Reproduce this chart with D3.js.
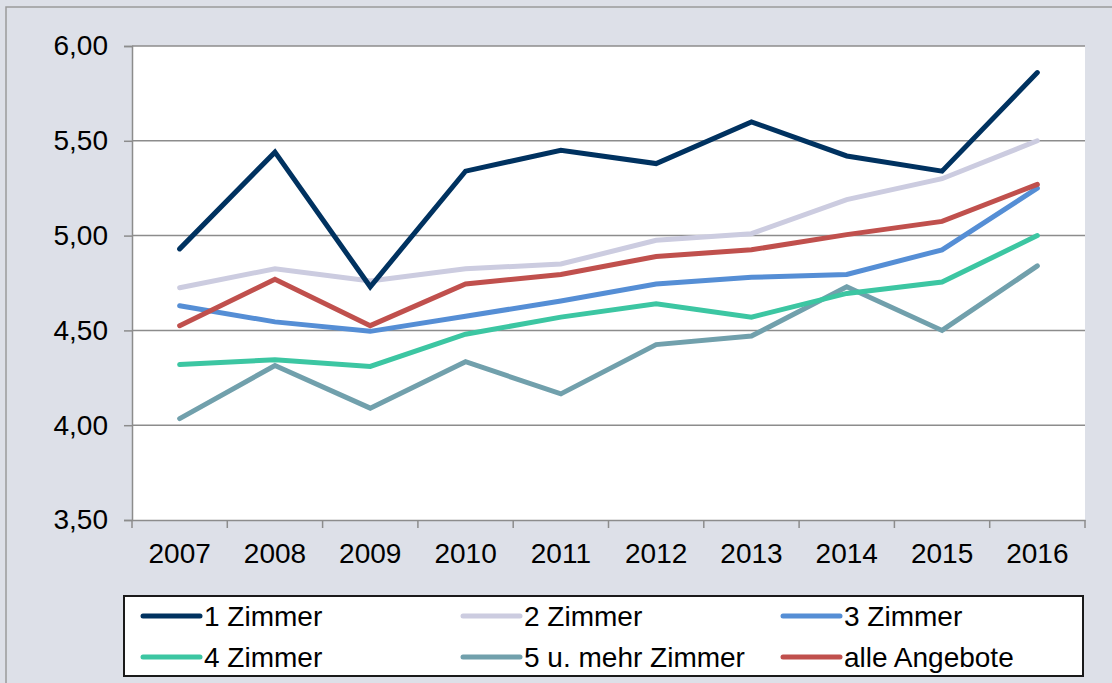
<!DOCTYPE html>
<html>
<head>
<meta charset="utf-8">
<script src="https://cdn.jsdelivr.net/npm/d3@7"></script>
<style>
  body { margin: 0; background: #dde0e8; }
  svg { display: block; font-family: "Liberation Sans", Arial, sans-serif; }
</style>
</head>
<body>
<div id="chart"></div>
<script>
// Daten
const years = ["2007", "2008", "2009", "2010", "2011", "2012", "2013", "2014", "2015", "2016"];
const zimmer1 = [4.93, 5.44, 4.73, 5.34, 5.45, 5.38, 5.60, 5.42, 5.34, 5.86];
const zimmer2 = [4.725, 4.825, 4.76, 4.825, 4.85, 4.975, 5.01, 5.19, 5.30, 5.50];
const zimmer3 = [4.63, 4.545, 4.495, 4.575, 4.655, 4.745, 4.78, 4.795, 4.925, 5.25];
const zimmer4 = [4.32, 4.345, 4.31, 4.48, 4.57, 4.64, 4.57, 4.695, 4.755, 5.00];
const zimmer5 = [4.035, 4.315, 4.09, 4.335, 4.165, 4.425, 4.47, 4.73, 4.50, 4.84];
const alle = [4.525, 4.77, 4.525, 4.745, 4.795, 4.89, 4.925, 5.005, 5.075, 5.27];
const yTicks = [3.5, 4.0, 4.5, 5.0, 5.5, 6.0];

const series = [
  { name: "1 Zimmer", values: zimmer1, color: "#003260" },
  { name: "2 Zimmer", values: zimmer2, color: "#cccce0" },
  { name: "3 Zimmer", values: zimmer3, color: "#558ed5" },
  { name: "4 Zimmer", values: zimmer4, color: "#3cc6a2" },
  { name: "5 u. mehr Zimmer", values: zimmer5, color: "#71a0ac" },
  { name: "alle Angebote", values: alle, color: "#c0504d" }
];
// Reihenfolge beim Zeichnen (unterste zuerst)
const drawOrder = [4, 3, 2, 5, 1, 0];

const width = 1112, height = 683;
const plot = { left: 132, right: 1085, top: 46, bottom: 520 };
const fontSize = 28;

const svg = d3.select("#chart").append("svg")
  .attr("width", width)
  .attr("height", height);

// Hintergrund mit Rahmen
svg.append("rect")
  .attr("x", 6).attr("y", 7)
  .attr("width", width + 20).attr("height", height + 20)
  .attr("fill", "#dde0e8")
  .attr("stroke", "#9a9a9a")
  .attr("stroke-width", 1.5);

svg.append("rect")
  .attr("x", plot.left).attr("y", plot.top)
  .attr("width", plot.right - plot.left)
  .attr("height", plot.bottom - plot.top)
  .attr("fill", "#ffffff");

const x = d3.scaleBand().domain(years).range([plot.left, plot.right]);
const y = d3.scaleLinear().domain([3.5, 6.0]).range([plot.bottom, plot.top]);

const fmt = d => d3.format(".2f")(d).replace(".", ",");

// Gitternetz
svg.append("g")
  .selectAll("line")
  .data(yTicks.slice(1))
  .enter().append("line")
  .attr("x1", plot.left).attr("x2", plot.right)
  .attr("y1", d => y(d)).attr("y2", d => y(d))
  .attr("stroke", "#8c8c8c")
  .attr("stroke-width", 1.5);

// Y-Achse
const yAxis = svg.append("g")
  .attr("transform", `translate(${plot.left},0)`)
  .call(d3.axisLeft(y).tickValues(yTicks).tickSize(8).tickPadding(16).tickFormat(fmt));
yAxis.selectAll("line, path").attr("stroke", "#8c8c8c").attr("stroke-width", 1.5);
yAxis.selectAll("text").attr("font-size", fontSize).attr("fill", "#000")
  .attr("font-family", "Liberation Sans, Arial, sans-serif");

// X-Achse
const xAxis = svg.append("g")
  .attr("transform", `translate(0,${plot.bottom})`)
  .call(d3.axisBottom(x).tickSize(0).tickPadding(23));
xAxis.select("path").attr("stroke", "#8c8c8c").attr("stroke-width", 1.5);
xAxis.selectAll("text").attr("font-size", fontSize).attr("fill", "#000")
  .attr("font-family", "Liberation Sans, Arial, sans-serif");

// Teilstriche zwischen Kategorien
const edges = years.map(d => x(d)).concat([x(years[years.length - 1]) + x.bandwidth()]);
svg.append("g")
  .selectAll("line")
  .data(edges)
  .enter().append("line")
  .attr("x1", d => d).attr("x2", d => d)
  .attr("y1", plot.bottom).attr("y2", plot.bottom + 8)
  .attr("stroke", "#8c8c8c")
  .attr("stroke-width", 1.5);

// Linien
const line = d3.line()
  .x((d, i) => x(years[i]) + x.bandwidth() / 2)
  .y(d => y(d));

svg.append("g")
  .selectAll("path")
  .data(drawOrder.map(i => series[i]))
  .enter().append("path")
  .attr("d", d => line(d.values))
  .attr("fill", "none")
  .attr("stroke", d => d.color)
  .attr("stroke-width", 5)
  .attr("stroke-linejoin", "miter")
  .attr("stroke-linecap", "round");

// Legende
const legend = svg.append("g");
legend.append("rect")
  .attr("x", 124).attr("y", 596)
  .attr("width", 959).attr("height", 80)
  .attr("fill", "#ffffff")
  .attr("stroke", "#1a1a1a")
  .attr("stroke-width", 2);

const items = legend.selectAll("g.item")
  .data(series)
  .enter().append("g")
  .attr("class", "item")
  .attr("transform", (d, i) => `translate(${143 + (i % 3) * 320},${i < 3 ? 616 : 657})`);

items.append("line")
  .attr("x1", 0).attr("x2", 57)
  .attr("stroke", d => d.color)
  .attr("stroke-width", 5)
  .attr("stroke-linecap", "round");

items.append("text")
  .attr("x", 61)
  .attr("dy", "0.35em")
  .attr("font-size", fontSize)
  .attr("fill", "#000")
  .text(d => d.name);
</script>
</body>
</html>
